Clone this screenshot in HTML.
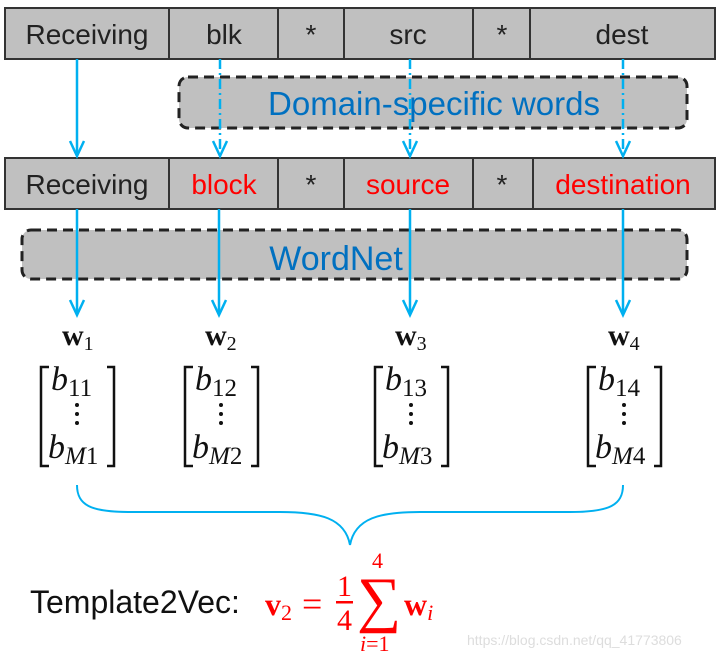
<!DOCTYPE html>
<html><head><style>html,body{margin:0;padding:0;background:#fff}svg{display:block}</style></head>
<body>
<svg width="720" height="660" viewBox="0 0 720 660" xmlns="http://www.w3.org/2000/svg">
<g font-family="'Segoe UI','Liberation Sans',sans-serif">
<rect x="5" y="8" width="710" height="51" fill="#C0C0C0" stroke="#333" stroke-width="2"/>
<g stroke="#333" stroke-width="2">
<line x1="169" y1="8" x2="169" y2="59"/><line x1="278" y1="8" x2="278" y2="59"/>
<line x1="344" y1="8" x2="344" y2="59"/><line x1="473" y1="8" x2="473" y2="59"/>
<line x1="530" y1="8" x2="530" y2="59"/>
</g>
<g font-size="28" fill="#222" text-anchor="middle">
<text x="87" y="44">Receiving</text><text x="224" y="44">blk</text><text x="311" y="44">*</text>
<text x="408" y="44">src</text><text x="502" y="44">*</text><text x="622" y="44">dest</text>
</g>
<rect x="179" y="77" width="508" height="51" rx="9" fill="#C0C0C0" stroke="#222" stroke-width="3" stroke-dasharray="10,6"/>
<text x="434" y="115" font-size="33" fill="#0070C0" text-anchor="middle">Domain-specific words</text>
<rect x="5" y="158" width="710" height="51" fill="#C0C0C0" stroke="#333" stroke-width="2"/>
<g stroke="#333" stroke-width="2">
<line x1="169" y1="158" x2="169" y2="209"/><line x1="278" y1="158" x2="278" y2="209"/>
<line x1="344" y1="158" x2="344" y2="209"/><line x1="473" y1="158" x2="473" y2="209"/>
<line x1="533" y1="158" x2="533" y2="209"/>
</g>
<g font-size="28" text-anchor="middle">
<text x="87" y="194" fill="#222">Receiving</text><text x="224" y="194" fill="#FF0000">block</text><text x="311" y="194" fill="#222">*</text>
<text x="408" y="194" fill="#FF0000">source</text><text x="502" y="194" fill="#222">*</text><text x="623" y="194" fill="#FF0000">destination</text>
</g>
<rect x="22" y="230" width="665" height="49" rx="9" fill="#C0C0C0" stroke="#222" stroke-width="3" stroke-dasharray="10,6"/>
<text x="336" y="270" font-size="34" fill="#0070C0" text-anchor="middle">WordNet</text>
</g>
<g stroke="#00B0F0" stroke-width="2.5" fill="none">
<line x1="77" y1="59" x2="77" y2="155"/>
<line x1="220" y1="59" x2="220" y2="155" stroke-dasharray="10,4,2,4"/>
<line x1="410" y1="59" x2="410" y2="155" stroke-dasharray="10,4,2,4"/>
<line x1="623" y1="59" x2="623" y2="155" stroke-dasharray="10,4,2,4"/>
<line x1="77" y1="209" x2="77" y2="314"/>
<line x1="219" y1="209" x2="219" y2="314"/>
<line x1="410" y1="209" x2="410" y2="314"/>
<line x1="623" y1="209" x2="623" y2="314"/>
<path d="M70,141 L77,156 L84,141"/><path d="M213,141 L220,156 L227,141"/>
<path d="M403,141 L410,156 L417,141"/><path d="M616,141 L623,156 L630,141"/>
<path d="M70,300 L77,315 L84,300"/><path d="M212,300 L219,315 L226,300"/>
<path d="M403,300 L410,315 L417,300"/><path d="M616,300 L623,315 L630,300"/>
<path d="M77,485 C77,505 90,512 130,512 L280,512 C320,512 345,518 350,545 C355,518 380,512 420,512 L570,512 C610,512 623,505 623,485" stroke-width="2"/>
</g>
<g font-family="'Liberation Serif',serif" fill="#111">
<g font-size="30" font-weight="bold">
<text x="62" y="345">w<tspan font-size="20" font-weight="normal" dy="5">1</tspan></text>
<text x="205" y="345">w<tspan font-size="20" font-weight="normal" dy="5">2</tspan></text>
<text x="395" y="345">w<tspan font-size="20" font-weight="normal" dy="5">3</tspan></text>
<text x="608" y="345">w<tspan font-size="20" font-weight="normal" dy="5">4</tspan></text>
</g>
<g font-size="34" font-style="italic">
<text x="51" y="390">b<tspan font-style="normal" font-size="25" dy="6">11</tspan></text>
<text x="48" y="458">b<tspan font-size="25" dy="6">M</tspan><tspan font-style="normal" font-size="25">1</tspan></text>
<text x="195" y="390">b<tspan font-style="normal" font-size="25" dy="6">12</tspan></text>
<text x="192" y="458">b<tspan font-size="25" dy="6">M</tspan><tspan font-style="normal" font-size="25">2</tspan></text>
<text x="385" y="390">b<tspan font-style="normal" font-size="25" dy="6">13</tspan></text>
<text x="382" y="458">b<tspan font-size="25" dy="6">M</tspan><tspan font-style="normal" font-size="25">3</tspan></text>
<text x="598" y="390">b<tspan font-style="normal" font-size="25" dy="6">14</tspan></text>
<text x="595" y="458">b<tspan font-size="25" dy="6">M</tspan><tspan font-style="normal" font-size="25">4</tspan></text>
</g>
<g>
<circle cx="77" cy="405" r="2"/><circle cx="77" cy="414" r="2"/><circle cx="77" cy="423" r="2"/>
<circle cx="221" cy="405" r="2"/><circle cx="221" cy="414" r="2"/><circle cx="221" cy="423" r="2"/>
<circle cx="411" cy="405" r="2"/><circle cx="411" cy="414" r="2"/><circle cx="411" cy="423" r="2"/>
<circle cx="624" cy="405" r="2"/><circle cx="624" cy="414" r="2"/><circle cx="624" cy="423" r="2"/>
</g>
<g fill="none" stroke="#111" stroke-width="2.5">
<path d="M49,367 H41 V466 H49"/><path d="M107,367 H114 V466 H107"/>
<path d="M193,367 H185 V466 H193"/><path d="M251,367 H258 V466 H251"/>
<path d="M383,367 H375 V466 H383"/><path d="M441,367 H448 V466 H441"/>
<path d="M596,367 H588 V466 H596"/><path d="M654,367 H661 V466 H654"/>
</g>
</g>
<text x="30" y="613" font-family="'Segoe UI','Liberation Sans',sans-serif" font-size="32" fill="#111">Template2Vec:</text>
<g font-family="'Liberation Serif',serif" fill="#FF0000">
<text x="265" y="615" font-size="32" font-weight="bold">v<tspan font-weight="normal" font-size="22" dy="5">2</tspan></text>
<text x="302" y="616" font-size="36">=</text>
<text x="337" y="596" font-size="30">1</text>
<rect x="336" y="601" width="17" height="2.5"/>
<text x="337" y="630" font-size="30">4</text>
<text x="357" y="620" font-size="62">∑</text>
<text x="372" y="568" font-size="22">4</text>
<text x="360" y="651" font-size="22"><tspan font-style="italic">i</tspan>=1</text>
<text x="404" y="615" font-size="32" font-weight="bold">w<tspan font-weight="normal" font-style="italic" font-size="22" dy="5">i</tspan></text>
</g>
<text x="467" y="645" font-family="'Liberation Sans',sans-serif" font-size="14" fill="#ddd">https://blog.csdn.net/qq_41773806</text>
</svg>
</body></html>
